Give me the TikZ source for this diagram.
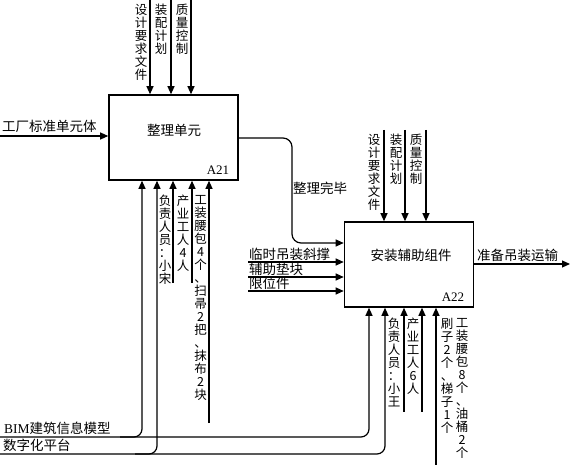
\documentclass[tikz,border=0pt]{standalone}
\usepackage{fontspec}
\setmainfont{Noto Sans CJK SC}
\newfontfamily\lserif{Liberation Serif}
\usetikzlibrary{arrows.meta}
\begin{document}
\begin{tikzpicture}[x=1pt,y=-1pt,
  box/.style={draw, line width=1.6pt, minimum width=129pt, minimum height=85pt, inner sep=0pt},
  arr/.style={line width=1.2pt, -{Triangle[length=8pt,width=7pt]}},
  rc/.style={rounded corners=8pt},
  vlab/.style={font=\fontsize{12.5}{13}\selectfont, align=center, inner sep=0pt, anchor=north},
  hlab/.style={font=\fontsize{13.5}{14}\selectfont, inner sep=0pt, anchor=base west},
  clab/.style={font=\fontsize{13.5}{14}\selectfont, inner sep=0pt},
  idlab/.style={font=\lserif\fontsize{13}{14}\selectfont, inner sep=0pt}]
\useasboundingbox (0,0) rectangle (571,465);

% boxes
\node[box] (a21) at (173.5,137.5) {};
\node[clab] (a21t) at (174,130) {整理单元};
\node[idlab] (a21id) at (218,170) {A21};
\node[box] (a22) at (409,264.5) {};
\node[clab] (a22t) at (411,255) {安装辅助组件};
\node[idlab] (a22id) at (453,297) {A22};

% A21 controls
\coordinate (c11) at (150,0);
\coordinate (c12) at (171,0);
\coordinate (c13) at (191,0);
\draw[arr] (c11) -- (c11 |- a21.north);
\draw[arr] (c12) -- (c12 |- a21.north);
\draw[arr] (c13) -- (c13 |- a21.north);
\node[vlab] (l11) at (141,4) {设\\计\\要\\求\\文\\件};
\node[vlab] (l12) at (161,4) {装\\配\\计\\划};
\node[vlab] (l13) at (182,4) {质\\量\\控\\制};

% A21 input
\coordinate (in1) at (0,136);
\draw[arr] (in1) -- (in1 -| a21.west);
\node[hlab] (lin1) at (2,132) {工厂标准单元体};

% A21 -> A22
\coordinate (k1) at (292,138);
\coordinate (k2) at (292,243);
\draw[arr, rounded corners=9pt] (a21.east |- k1) -- (k1) -- (k2) -- (k2 -| a22.west);
\node[clab] (lk) at (320,188) {整理完毕};

% A22 controls
\coordinate (c21) at (384,130);
\coordinate (c22) at (405,130);
\coordinate (c23) at (426,130);
\draw[arr] (c21) -- (c21 |- a22.north);
\draw[arr] (c22) -- (c22 |- a22.north);
\draw[arr] (c23) -- (c23 |- a22.north);
\node[vlab] (l21) at (374,134) {设\\计\\要\\求\\文\\件};
\node[vlab] (l22) at (396,134) {装\\配\\计\\划};
\node[vlab] (l23) at (416,134) {质\\量\\控\\制};

% A22 inputs
\coordinate (i1) at (248,262);
\coordinate (i2) at (248,277);
\coordinate (i3) at (248,291);
\draw[arr] (i1) -- (i1 -| a22.west);
\draw[arr] (i2) -- (i2 -| a22.west);
\draw[arr] (i3) -- (i3 -| a22.west);
\node[hlab] (li1) at (249,259.5) {临时吊装斜撑};
\node[hlab] (li2) at (249,274.5) {辅助垫块};
\node[hlab] (li3) at (249,288.5) {限位件};

% A22 output
\coordinate (o1) at (570,264);
\draw[arr] (a22.east |- o1) -- (o1);
\node[hlab] (lo1) at (477,260.5) {准备吊装运输};

% A21 mechanisms
\coordinate (m11) at (173,283);
\coordinate (m12) at (192,283);
\coordinate (m13) at (209,423);
\draw[arr] (m11) -- (m11 |- a21.south);
\draw[arr] (m12) -- (m12 |- a21.south);
\draw[arr] (m13) -- (m13 |- a21.south);
\node[vlab] (lm11) at (165,195) {负\\责\\人\\员\\：\\小\\宋};
\node[vlab] (lm12) at (183,195) {产\\业\\工\\人\\4\\人};
\node[vlab] (lm13) at (200.5,195) {工\\装\\腰\\包\\4\\个\\、\\扫\\帚\\2\\把\\、\\抹\\布\\2\\块};

% A22 mechanisms
\coordinate (m21) at (404,412);
\coordinate (m22) at (422,412);
\coordinate (m23) at (436,465);
\draw[arr] (m21) -- (m21 |- a22.south);
\draw[arr] (m22) -- (m22 |- a22.south);
\draw[arr] (m23) -- (m23 |- a22.south);
\node[vlab] (lm21) at (394,318) {负\\责\\人\\员\\：\\小\\王};
\node[vlab] (lm22) at (413,318) {产\\业\\工\\人\\6\\人};
\node[vlab] (lm23) at (447,318) {刷\\子\\2\\个\\、\\梯\\子\\1\\个};
\node[vlab] (lm24) at (462,318) {工\\装\\腰\\包\\8\\个\\、\\油\\桶\\2\\个};

% BIM and digital platform
\coordinate (bim0) at (0,437);
\coordinate (bimR) at (369,437);
\coordinate (bimL0) at (120,437);
\coordinate (bimL) at (142,437);
\draw[arr, rc] (bim0) -- (bimR) -- (bimR |- a22.south);
\draw[arr, rc] (bimL0) -- (bimL) -- (bimL |- a21.south);
\node[hlab] (lbim) at (4,433.5) {{\lserif BIM}建筑信息模型};

\coordinate (dp0) at (0,454);
\coordinate (dpR) at (385,454);
\coordinate (dpL0) at (135,454);
\coordinate (dpL) at (157,454);
\draw[arr, rc] (dp0) -- (dpR) -- (dpR |- a22.south);
\draw[arr, rc] (dpL0) -- (dpL) -- (dpL |- a21.south);
\node[hlab] (ldp) at (3,450.5) {数字化平台};
\end{tikzpicture}
\end{document}
